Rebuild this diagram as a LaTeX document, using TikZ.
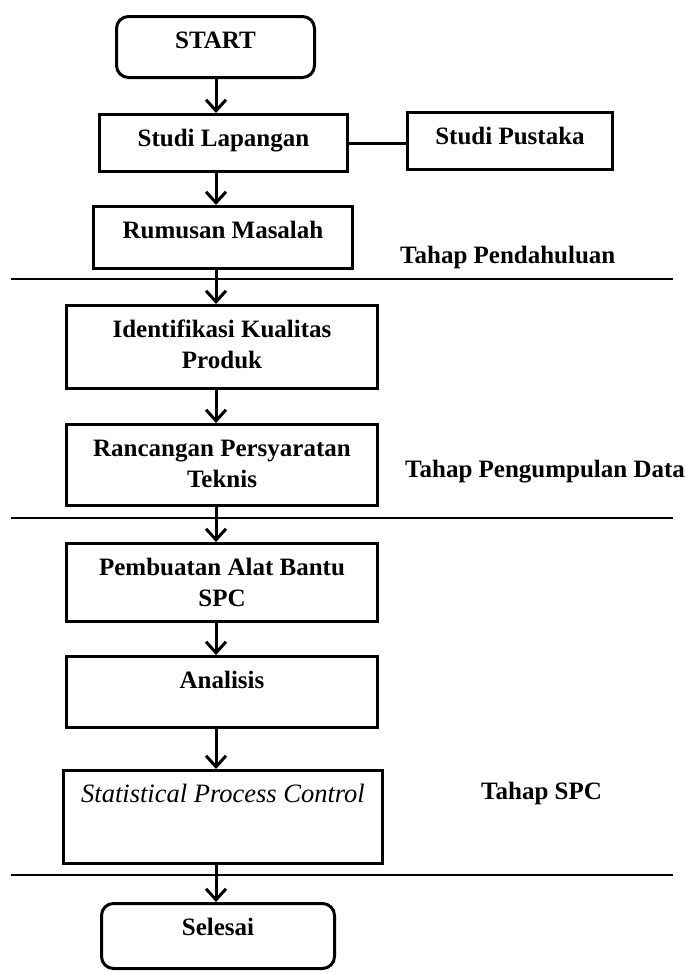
\documentclass[tikz,border=0pt]{standalone}
\usepackage{fontspec}
\setmainfont{Liberation Serif}
\usetikzlibrary{arrows.meta}
\newcommand\boxtxt[3]{\parbox[c][#2][t]{#1}{\centering\rule{0pt}{31.5pt}#3}}
\begin{document}
\begin{tikzpicture}[x=1pt,y=-1pt,
  box/.style={draw, line width=3pt, inner sep=0pt, font=\fontsize{25}{31}\selectfont\bfseries},
  rbox/.style={box, rounded corners=12pt},
  arr/.style={line width=3pt, -{Straight Barb[length=11pt,width=20pt]}},
  sepline/.style={line width=2.2pt},
  joinline/.style={line width=3pt},
  phase/.style={font=\fontsize{25}{31}\selectfont\bfseries, inner sep=0pt, anchor=base west}]
\useasboundingbox (0,0) rectangle (686,972);
\fill[white] (0,0) rectangle (686,972);

% boxes
\node[rbox] (start) at (215.5,47)  {\boxtxt{198pt}{61pt}{START}};
\node[box]  (sl)    at (223.5,143) {\boxtxt{248pt}{57pt}{Studi Lapangan}};
\node[box]  (sp)    at (510,141)   {\boxtxt{205pt}{57pt}{Studi Pustaka}};
\node[box]  (rm)    at (223,237.5) {\boxtxt{259pt}{62pt}{Rumusan Masalah}};
\node[box]  (id)    at (222,347)   {\boxtxt{311pt}{83pt}{Identifikasi Kualitas\\Produk}};
\node[box]  (rc)    at (222,465)   {\boxtxt{311pt}{81pt}{Rancangan Persyaratan\\Teknis}};
\node[box]  (pb)    at (222,582.5) {\boxtxt{311pt}{78pt}{Pembuatan Alat Bantu\\SPC}};
\node[box]  (an)    at (222,692)   {\boxtxt{311pt}{71pt}{Analisis}};
\node[box, font=\fontsize{26.5}{31}\selectfont\itshape] (spc) at (223,817) {\boxtxt{319pt}{93pt}{Statistical Process Control}};
\node[rbox] (se)    at (218,936)   {\boxtxt{233pt}{65pt}{Selesai}};

% phase labels
\node[phase] (p1) at (400,263) {Tahap Pendahuluan};
\node[phase] (p2) at (405,477) {Tahap Pengumpulan Data};
\node[phase] (p3) at (481,799) {Tahap SPC};

% separator lines
\coordinate (l1a) at (11,279);  \coordinate (l1b) at (673,279);
\coordinate (l2a) at (11,518);  \coordinate (l2b) at (673,518);
\coordinate (l3a) at (11,875);  \coordinate (l3b) at (673,875);
\draw[sepline] (l1a) -- (l1b);
\draw[sepline] (l2a) -- (l2b);
\draw[sepline] (l3a) -- (l3b);

% connectors
\coordinate (ax) at (216,0);
\draw[joinline] (sl.east) -- (sl.east -| sp.west);
\draw[arr] (start.south -| ax) -- (sl.north -| ax);
\draw[arr] (sl.south -| ax) -- (rm.north -| ax);
\draw[arr] (rm.south -| ax) -- (id.north -| ax);
\draw[arr] (id.south -| ax) -- (rc.north -| ax);
\draw[arr] (rc.south -| ax) -- (pb.north -| ax);
\draw[arr] (pb.south -| ax) -- (an.north -| ax);
\draw[arr] (an.south -| ax) -- (spc.north -| ax);
\draw[arr] (spc.south -| ax) -- (se.north -| ax);
\end{tikzpicture}
\end{document}
